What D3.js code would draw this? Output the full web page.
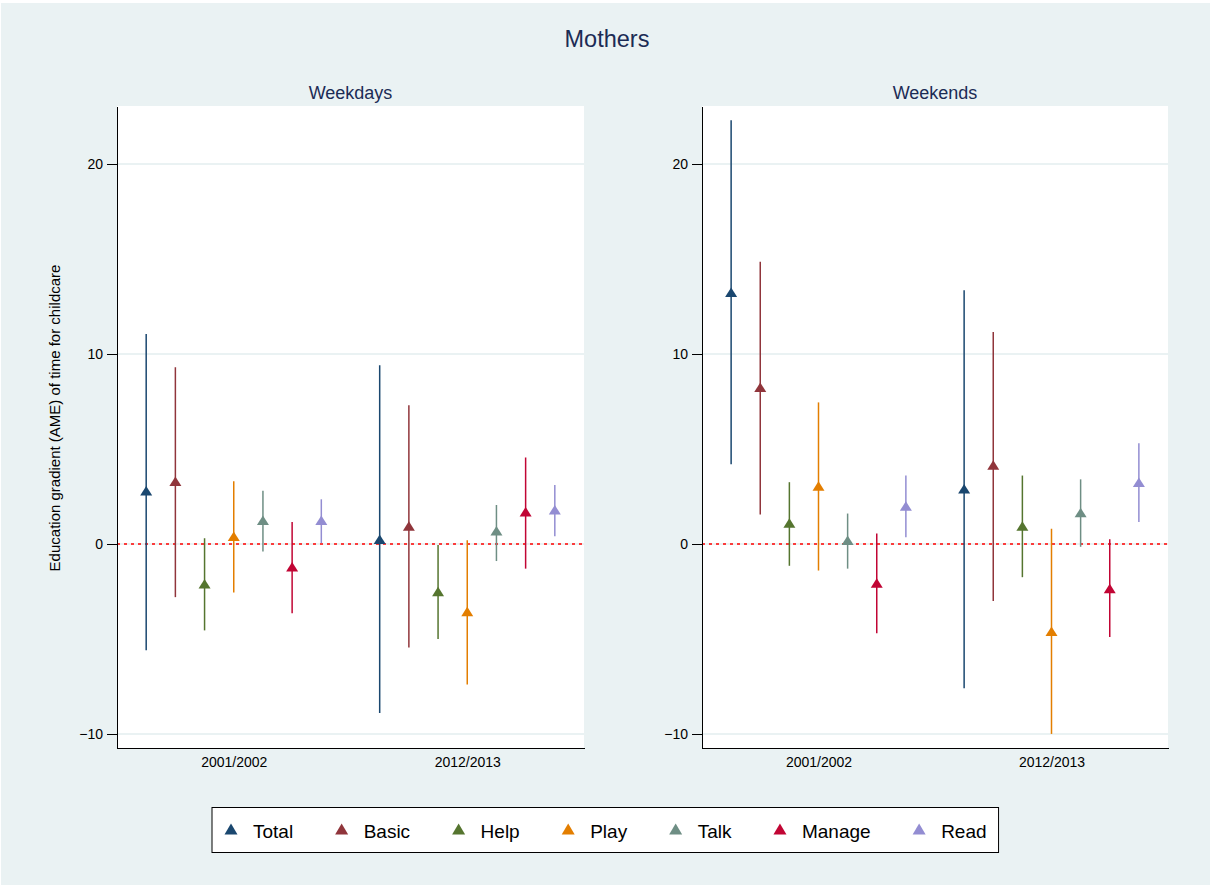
<!DOCTYPE html>
<meta charset="utf-8">
<style>
body { margin: 0; background: #fff; }
text { font-family: "Liberation Sans", Arial, sans-serif; }
.axis path, .axis line { stroke: #000; stroke-width: 1.5px; shape-rendering: crispEdges; }
.axis text { font-size: 14px; fill: #000; }
</style>
<body>
<div id="chart"></div>
<script src="https://cdn.jsdelivr.net/npm/d3@7"></script>
<script>
// categories, periods and panels
var categories = ["Total", "Basic", "Help", "Play", "Talk", "Manage", "Read"];
var colors = ["#1a476f", "#90353b", "#55752f", "#e37e00", "#6e8e84", "#c10534", "#938dd2"];
var periods = ["2001/2002", "2012/2013"];
var panels = ["Weekdays", "Weekends"];
var yTicks = [-10, 0, 10, 20];

// estimates and 95% CI, one row per period (categories in order above)
var weekdayEst = [[2.8, 3.3, -2.1, 0.4, 1.25, -1.2, 1.25],
                  [0.25, 0.95, -2.5, -3.55, 0.7, 1.7, 1.8]];
var weekdayLo  = [[-5.6, -2.8, -4.55, -2.55, -0.4, -3.65, 0.05],
                  [-8.9, -5.45, -5.0, -7.4, -0.9, -1.3, 0.4]];
var weekdayHi  = [[11.05, 9.3, 0.3, 3.3, 2.8, 1.15, 2.35],
                  [9.4, 7.3, -0.05, 0.2, 2.05, 4.55, 3.1]];

var weekendEst = [[13.25, 8.25, 1.1, 3.05, 0.2, -2.05, 2.0],
                  [2.9, 4.15, 0.95, -4.6, 1.65, -2.35, 3.25]];
var weekendLo  = [[4.2, 1.55, -1.15, -1.4, -1.3, -4.7, 0.35],
                  [-7.6, -3.0, -1.75, -10.0, -0.15, -4.9, 1.15]];
var weekendHi  = [[22.3, 14.85, 3.25, 7.45, 1.6, 0.55, 3.6],
                  [13.35, 11.15, 3.6, 0.8, 3.4, 0.25, 5.3]];

var panelData = [
  {est: weekdayEst, lo: weekdayLo, hi: weekdayHi},
  {est: weekendEst, lo: weekendLo, hi: weekendHi}
];

var W = 1210, H = 885;
var plotTop = 106, plotBottom = 748;
var panelX = [[117, 584], [702, 1168]];

var svg = d3.select("#chart").append("svg")
    .attr("width", W)
    .attr("height", H);

svg.append("rect")
    .attr("x", 1).attr("y", 3)
    .attr("width", W - 1).attr("height", H - 3)
    .attr("fill", "#eaf2f3");

svg.append("text")
    .attr("x", 607).attr("y", 47)
    .attr("text-anchor", "middle")
    .style("font-size", "23.5px")
    .style("fill", "#1c2c55")
    .text("Mothers");

var y = d3.scaleLinear().domain([-10.74, 23.05]).range([plotBottom, plotTop]);

function tri(w, h) {
  return "M0," + (-h / 2) + "L" + (w / 2) + "," + (h / 2) + "L" + (-w / 2) + "," + (h / 2) + "Z";
}

panels.forEach(function(name, p) {
  var x = d3.scaleLinear().domain([0.5, 2.5]).range(panelX[p]);
  var g = svg.append("g");

  g.append("rect")
      .attr("x", panelX[p][0]).attr("y", plotTop)
      .attr("width", panelX[p][1] - panelX[p][0])
      .attr("height", plotBottom - plotTop)
      .attr("fill", "#fff");

  g.append("text")
      .attr("x", (panelX[p][0] + panelX[p][1]) / 2).attr("y", 99)
      .attr("text-anchor", "middle")
      .style("font-size", "18px")
      .style("fill", "#1c2c55")
      .text(name);

  // grid
  g.selectAll(".grid")
      .data(yTicks)
      .enter().append("line")
      .attr("x1", panelX[p][0]).attr("x2", panelX[p][1])
      .attr("y1", function(d) { return y(d); })
      .attr("y2", function(d) { return y(d); })
      .attr("stroke", "#eaf2f3")
      .attr("stroke-width", 2);

  // zero reference
  g.append("line")
      .attr("x1", panelX[p][0]).attr("x2", panelX[p][1])
      .attr("y1", y(0)).attr("y2", y(0))
      .attr("stroke", "#ff0000")
      .attr("stroke-width", 1.5)
      .attr("stroke-dasharray", "3,4");

  var rows = [];
  periods.forEach(function(per, j) {
    categories.forEach(function(c, i) {
      rows.push({
        x: j + 1 + (i - 3) * 0.125,
        est: panelData[p].est[j][i],
        lo: panelData[p].lo[j][i],
        hi: panelData[p].hi[j][i],
        color: colors[i]
      });
    });
  });

  g.selectAll(".ci")
      .data(rows)
      .enter().append("line")
      .attr("x1", function(d) { return x(d.x); })
      .attr("x2", function(d) { return x(d.x); })
      .attr("y1", function(d) { return y(d.lo); })
      .attr("y2", function(d) { return y(d.hi); })
      .attr("stroke", function(d) { return d.color; })
      .attr("stroke-width", 1.5);

  g.selectAll(".pt")
      .data(rows)
      .enter().append("path")
      .attr("d", tri(12, 9.5))
      .attr("transform", function(d) { return "translate(" + x(d.x) + "," + y(d.est) + ")"; })
      .attr("fill", function(d) { return d.color; });

  g.append("g")
      .attr("class", "axis")
      .attr("transform", "translate(" + panelX[p][0] + ",0)")
      .call(d3.axisLeft(y).tickValues(yTicks).tickSize(10).tickSizeOuter(0).tickPadding(4));

  g.append("g")
      .attr("class", "axis")
      .attr("transform", "translate(0," + plotBottom + ")")
      .call(d3.axisBottom(x).tickValues([1, 2]).tickFormat(function(d) { return periods[d - 1]; })
            .tickSize(0).tickSizeOuter(0).tickPadding(9));
});

// y axis title
svg.append("text")
    .attr("transform", "translate(60,418) rotate(-90)")
    .attr("text-anchor", "middle")
    .style("font-size", "15px")
    .style("fill", "#000")
    .text("Education gradient (AME) of time for childcare");

// legend
var legend = svg.append("g");
var box = legend.append("rect")
    .attr("y", 807.5).attr("height", 45)
    .attr("fill", "#fff")
    .attr("stroke", "#000")
    .attr("stroke-width", 1);

var cursor = 231, lastEnd = 0;
categories.forEach(function(c, i) {
  legend.append("path")
      .attr("d", tri(13, 11))
      .attr("transform", "translate(" + cursor + ",829)")
      .attr("fill", colors[i]);
  var t = legend.append("text")
      .attr("x", cursor + 22).attr("y", 838)
      .style("font-size", "19px")
      .style("fill", "#000")
      .text(c);
  lastEnd = cursor + 22 + t.node().getComputedTextLength();
  cursor = lastEnd + 48.5;
});
box.attr("x", 212).attr("width", lastEnd + 12 - 212);
</script>
